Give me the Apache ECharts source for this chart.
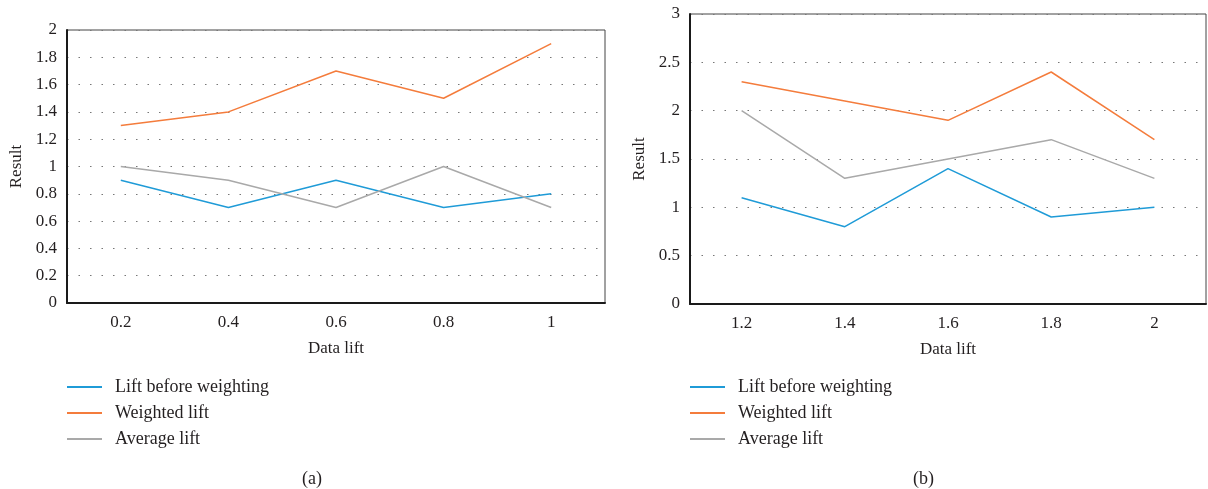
<!DOCTYPE html>
<html>
<head>
<meta charset="utf-8">
<script src="https://cdn.jsdelivr.net/npm/echarts@6/dist/echarts.min.js"></script>
<style>html,body{margin:0;padding:0;background:#fff}#c{width:1208px;height:489px}</style>
</head>
<body>
<div id="c"></div>
<script>
const catsA = ['0.2', '0.4', '0.6', '0.8', '1'];
const catsB = ['1.2', '1.4', '1.6', '1.8', '2'];
const seriesNames = ['Lift before weighting', 'Weighted lift', 'Average lift'];
const beforeA = [0.9, 0.7, 0.9, 0.7, 0.8];
const weightedA = [1.3, 1.4, 1.7, 1.5, 1.9];
const averageA = [1.0, 0.9, 0.7, 1.0, 0.7];
const beforeB = [1.1, 0.8, 1.4, 0.9, 1.0];
const weightedB = [2.3, 2.1, 1.9, 2.4, 1.7];
const averageB = [2.0, 1.3, 1.5, 1.7, 1.3];
const colors = ['#1f9bd7', '#f47c3c', '#a9a9a9'];
const FONT = 'Liberation Serif';

const chart = echarts.init(document.getElementById('c'));
function xAxis(idx, cats) {
  return {
    type: 'category', gridIndex: idx, data: cats, boundaryGap: true,
    axisLine: { lineStyle: { color: '#1a1a1a', width: 2 } },
    axisTick: { show: false },
    axisLabel: { color: '#231f20', fontFamily: FONT, fontSize: 17, margin: 11 },
    name: 'Data lift', nameLocation: 'middle', nameGap: 37,
    nameTextStyle: { color: '#231f20', fontFamily: FONT, fontSize: 17 }
  };
}
function yAxis(idx, max, interval) {
  return {
    type: 'value', gridIndex: idx, min: 0, max: max, interval: interval,
    axisLine: { show: true, lineStyle: { color: '#1a1a1a', width: 2 } },
    axisTick: { show: false },
    axisLabel: { color: '#231f20', fontFamily: FONT, fontSize: 17, margin: 10 },
    splitLine: { show: true, lineStyle: { color: '#777', type: [1.5, 10], width: 1.2 } },
    name: 'Result', nameLocation: 'middle', nameGap: 42,
    nameTextStyle: { color: '#231f20', fontFamily: FONT, fontSize: 17 }
  };
}
function line(name, data, idx, color) {
  return {
    name: name, type: 'line', xAxisIndex: idx, yAxisIndex: idx, data: data,
    symbol: 'none', lineStyle: { color: color, width: 1.5 }, itemStyle: { color: color },
    silent: true, animation: false
  };
}
function legend(left) {
  return {
    orient: 'vertical', left: left, top: 373, itemWidth: 35, itemHeight: 2, itemGap: 8,
    icon: 'rect', data: seriesNames,
    textStyle: { color: '#231f20', fontFamily: FONT, fontSize: 18, padding: [0, 0, 0, 8] }
  };
}
chart.setOption({
  animation: false,
  color: colors,
  grid: [
    { left: 67, right: 603, top: 30, bottom: 186, show: true, borderColor: '#444', borderWidth: 1 },
    { left: 690, right: 2, top: 14, bottom: 185, show: true, borderColor: '#444', borderWidth: 1 }
  ],
  xAxis: [xAxis(0, catsA), xAxis(1, catsB)],
  yAxis: [yAxis(0, 2, 0.2), yAxis(1, 3, 0.5)],
  legend: [legend(62), legend(685)],
  title: [
    { text: '(a)', left: 297, top: 465, textStyle: { color: '#231f20', fontFamily: FONT, fontSize: 18, fontWeight: 'normal' } },
    { text: '(b)', left: 908, top: 465, textStyle: { color: '#231f20', fontFamily: FONT, fontSize: 18, fontWeight: 'normal' } }
  ],
  series: [
    line(seriesNames[0], beforeA, 0, colors[0]),
    line(seriesNames[1], weightedA, 0, colors[1]),
    line(seriesNames[2], averageA, 0, colors[2]),
    line(seriesNames[0], beforeB, 1, colors[0]),
    line(seriesNames[1], weightedB, 1, colors[1]),
    line(seriesNames[2], averageB, 1, colors[2])
  ]
});
</script>
</body>
</html>
